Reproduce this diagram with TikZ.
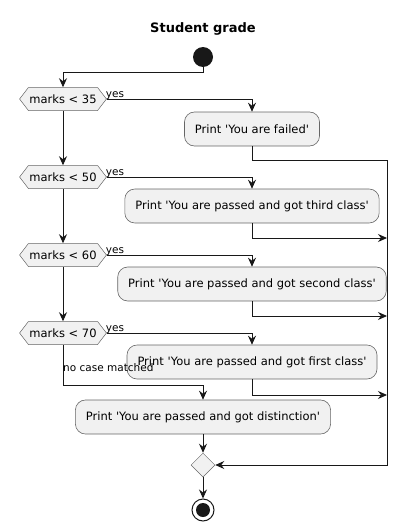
\documentclass[tikz,border=0pt]{standalone}
\usepackage{fontspec}
\setmainfont{DejaVu Sans}[Ligatures=TeXOff]
\usetikzlibrary{arrows.meta,shapes.symbols,shapes.geometric}
\definecolor{fillc}{HTML}{F1F1F1}
\definecolor{linec}{HTML}{181818}
\definecolor{borderc}{HTML}{666666}
\begin{document}
\begin{tikzpicture}[x=1pt,y=-1pt,
  font=\fontsize{11.5}{13}\selectfont,
  act/.style={draw=borderc,fill=fillc,rounded corners=10pt,minimum height=34pt,inner xsep=10.5pt,line width=0.6pt},
  dec/.style={draw=borderc,fill=fillc,signal,signal to=west and east,signal pointer angle=105,minimum height=23pt,inner xsep=1pt,line width=0.5pt},
  arr/.style={draw=linec,line width=0.9pt,-{Stealth[length=9pt,width=8pt,inset=3pt]}},
  ln/.style={draw=linec,line width=0.9pt},
  lbl/.style={inner sep=0pt,font=\fontsize{10.5}{12}\selectfont}]
\useasboundingbox (0,0) rectangle (408,530);
\node[font=\fontsize{13}{15}\selectfont\bfseries] (title) at (203,29) {Student grade};
\node[circle,fill=linec,minimum size=20pt,inner sep=0pt] (start) at (203,57) {};
\node[dec] (d1) at (63,99) {marks < 35};
\node[dec] (d2) at (63,177) {marks < 50};
\node[dec] (d3) at (63,255) {marks < 60};
\node[dec] (d4) at (63,333) {marks < 70};
\node[act] (b1) at (252,129) {Print 'You are failed'};
\node[act] (b2) at (252,206) {Print 'You are passed and got third class'};
\node[act] (b3) at (252,284) {Print 'You are passed and got second class'};
\node[act] (b4) at (252,362) {Print 'You are passed and got first class'};
\node[act] (b5) at (203,417) {Print 'You are passed and got distinction'};
\node[diamond,draw=borderc,fill=fillc,minimum size=24pt,inner sep=0pt,line width=0.5pt] (m) at (203,465) {};
\node[circle,draw=linec,line width=1pt,minimum size=22pt,inner sep=0pt] (end) at (203,510) {};
\node[circle,fill=linec,minimum size=14pt,inner sep=0pt] (endin) at (end.center) {};
\coordinate (s1) at (203,72);
\coordinate (r1) at (387,160);
\coordinate (r2) at (387,238);
\coordinate (r3) at (387,316);
\coordinate (r4) at (387,395);
\coordinate (nc) at (63,385);
\draw[arr] (start.south) -- (s1) -| (d1.north);
\draw[arr] (d1.east) -| (b1.north);
\draw[arr] (d2.east) -| (b2.north);
\draw[arr] (d3.east) -| (b3.north);
\draw[arr] (d4.east) -| (b4.north);
\draw[arr] (d1.south) -- (d2.north);
\draw[arr] (d2.south) -- (d3.north);
\draw[arr] (d3.south) -- (d4.north);
\draw[arr] (d4.south) -- (nc) -| (b5.north);
\draw[arr] (b1.south) |- (r1) |- (m.east);
\draw[arr] (b2.south) |- (r2);
\draw[arr] (b3.south) |- (r3);
\draw[arr] (b4.south) |- (r4);
\draw[arr] (b5.south) -- (m.north);
\draw[arr] (m.south) -- (end.north);
\node[lbl,anchor=south west] (y1) at ([xshift=-1pt,yshift=-1pt]d1.east) {yes};
\node[lbl,anchor=south west] (y2) at ([xshift=-1pt,yshift=-1pt]d2.east) {yes};
\node[lbl,anchor=south west] (y3) at ([xshift=-1pt,yshift=-1pt]d3.east) {yes};
\node[lbl,anchor=south west] (y4) at ([xshift=-1pt,yshift=-1pt]d4.east) {yes};
\node[lbl,anchor=west] (ncl) at (63,368) {no case matched};
\end{tikzpicture}
\end{document}
